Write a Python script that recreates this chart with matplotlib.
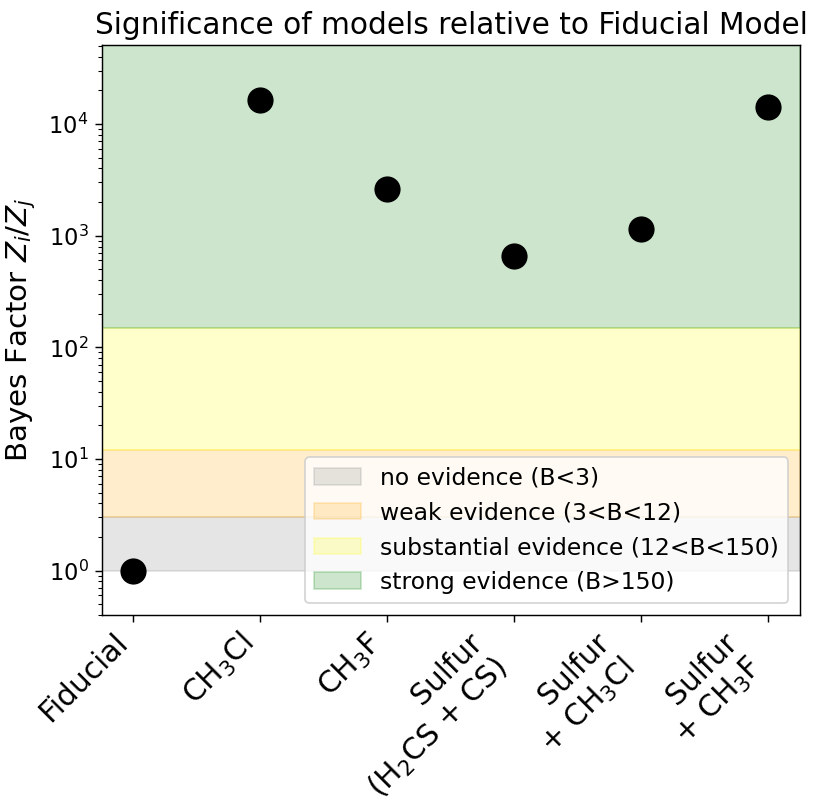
import matplotlib
matplotlib.use("Agg")
import matplotlib.pyplot as plt

MODELS = [
    "Fiducial",
    "CH$_3$Cl",
    "CH$_3$F",
    "Sulfur\n(H$_2$CS + CS)",
    "Sulfur\n+ CH$_3$Cl",
    "Sulfur\n+ CH$_3$F",
]
BAYES_FACTOR = [1.0, 1.64e4, 2.6e3, 6.6e2, 1.15e3, 1.42e4]

BANDS = [
    ("no evidence (B<3)", 1, 3, "grey"),
    ("weak evidence (3<B<12)", 3, 12, "orange"),
    ("substantial evidence (12<B<150)", 12, 150, "yellow"),
    ("strong evidence (B>150)", 150, 5.1e4, "green"),
]

DPI = 130
fig = plt.figure(figsize=(814 / DPI, 805 / DPI), dpi=DPI)
ax = fig.add_axes([0.125, 0.236, 0.858, 0.708])

for label, lo, hi, color in BANDS:
    ax.axhspan(lo, hi, color=color, alpha=0.2, label=label)

x = list(range(len(MODELS)))
ax.plot(x, BAYES_FACTOR, "o", color="black", markersize=13.5)

ax.set_yscale("log")
ax.set_ylim(0.4, 5.1e4)
ax.set_xlim(-0.25, 5.25)
ax.set_xticks(x)
ax.set_xticklabels(MODELS, rotation=45, ha="right", fontsize=16.5)
ax.tick_params(axis="y", labelsize=12.5)
ax.tick_params(axis="both", which="major", length=3.8)
ax.set_ylabel("Bayes Factor $Z_i/Z_j$", fontsize=16.3, labelpad=6)
ax.set_title("Significance of models relative to Fiducial Model", fontsize=16.4)
ax.legend(loc="lower right", fontsize=13)

fig.savefig("out.png", dpi=DPI)
